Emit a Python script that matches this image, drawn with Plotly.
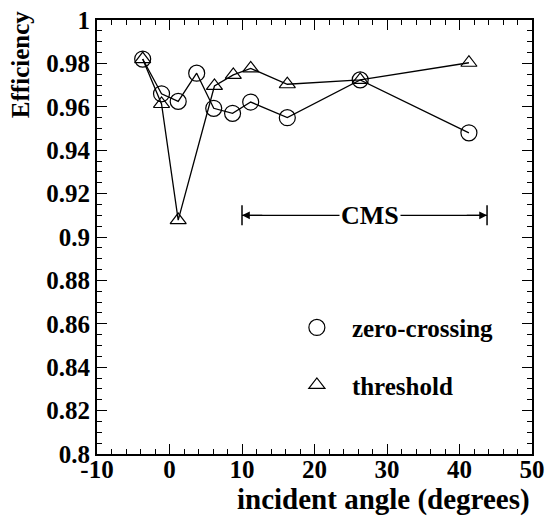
import plotly.graph_objects as go

# --- data ---
angle_zc = [-3.7, -1.1, 1.2, 3.75, 6.1, 8.7, 11.2, 16.25, 26.3, 41.3]
eff_zc = [0.982, 0.966, 0.9625, 0.9755, 0.9593, 0.957, 0.9622, 0.955, 0.9724, 0.948]
angle_th = [-3.7, -1.1, 1.2, 6.2, 8.8, 11.2, 16.25, 26.3, 41.3]
eff_th = [0.982, 0.9613, 0.9078, 0.9696, 0.9747, 0.9777, 0.9704, 0.9724, 0.9803]
x_tickvals = [-10, 0, 10, 20, 30, 40, 50]
x_ticktext = ["-10", "0", "10", "20", "30", "40", "50"]
y_tickvals = [0.8, 0.82, 0.84, 0.86, 0.88, 0.9, 0.92, 0.94, 0.96, 0.98, 1.0]
y_ticktext = ["0.8", "0.82", "0.84", "0.86", "0.88", "0.9", "0.92", "0.94", "0.96", "0.98", "1"]
series_names = ["zero-crossing", "threshold"]
cms_range = [10, 43.8]
cms_level = 0.91

FONT = "Liberation Serif"

fig = go.Figure()
line = dict(color="black", width=1.3)
mk_zc = dict(symbol="circle-open", size=16, color="black", line=dict(width=1.2))
mk_th = dict(symbol="triangle-up-open", size=14, color="black", line=dict(width=1.2))
fig.add_trace(go.Scatter(x=angle_zc, y=eff_zc, mode="lines+markers", line=line,
                         marker=mk_zc, showlegend=False))
fig.add_trace(go.Scatter(x=angle_th, y=eff_th, mode="lines+markers", line=line,
                         marker=mk_th, showlegend=False))
# legend entries (marker only)
fig.add_trace(go.Scatter(x=[None], y=[None], mode="markers", name=f"<b>{series_names[0]}</b>",
                         legendgroup="a", marker=mk_zc))
fig.add_trace(go.Scatter(x=[None], y=[None], mode="markers", name=f"<b>{series_names[1]}</b>",
                         legendgroup="b", marker=mk_th))

# CMS range indicator
fig.add_shape(type="line", x0=cms_range[0], x1=cms_range[1], y0=cms_level, y1=cms_level,
              line=dict(color="black", width=1.3))
for xv in cms_range:
    fig.add_shape(type="line", x0=xv, x1=xv, y0=cms_level - 0.0046, y1=cms_level + 0.0046,
                  line=dict(color="black", width=1.5))
fig.add_annotation(x=cms_range[0], y=cms_level, ax=cms_range[0] + 3, ay=cms_level,
                   axref="x", ayref="y", text="", showarrow=True, arrowhead=2,
                   arrowsize=1.2, arrowwidth=1.3, arrowcolor="black")
fig.add_annotation(x=cms_range[1], y=cms_level, ax=cms_range[1] - 3, ay=cms_level,
                   axref="x", ayref="y", text="", showarrow=True, arrowhead=2,
                   arrowsize=1.2, arrowwidth=1.3, arrowcolor="black")
fig.add_annotation(x=(cms_range[0] + cms_range[1]) / 2 + 0.8, y=cms_level, text="<b>CMS</b>",
                   showarrow=False, bgcolor="white", font=dict(family=FONT, size=26, color="black"),
                   xanchor="center", yanchor="middle", borderpad=1)

# axis titles as annotations
fig.add_annotation(xref="paper", yref="paper", x=-0.177, y=0.896, text="<b>Efficiency</b>",
                   textangle=-90, showarrow=False, xanchor="center", yanchor="middle",
                   font=dict(family=FONT, size=25, color="black"))
fig.add_annotation(xref="paper", yref="paper", x=1.0, y=-0.104, text="<b>incident angle (degrees)</b>",
                   showarrow=False, xanchor="right", yanchor="middle",
                   font=dict(family=FONT, size=29, color="black"))

tickfont = dict(family=FONT, size=25, color="black")
axis_common = dict(showgrid=False, zeroline=False, showline=True, linecolor="black", linewidth=2,
                   mirror="allticks", ticks="inside", tickcolor="black", tickwidth=1.3, ticklen=10,
                   tickfont=tickfont, automargin=False)
fig.update_xaxes(range=[-10, 50], tickvals=x_tickvals, ticktext=[f"<b>{t}</b>" for t in x_ticktext],
                 minor=dict(dtick=2, tick0=0, ticks="inside", ticklen=5, tickcolor="black", tickwidth=1.3),
                 ticklabelstandoff=-8, **axis_common)
fig.update_yaxes(range=[0.8, 1.0], tickvals=y_tickvals, ticktext=[f"<b>{t}</b>" for t in y_ticktext],
                 minor=dict(dtick=0.005, tick0=0.8, ticks="inside", ticklen=5, tickcolor="black", tickwidth=1.3),
                 **axis_common)

fig.update_layout(width=547, height=516, margin=dict(l=97, r=15, t=20, b=62),
                  font=dict(family=FONT, size=25, color="black"),
                  plot_bgcolor="white", paper_bgcolor="white",
                  legend=dict(x=0.425, y=0.344, xanchor="left", yanchor="top", bgcolor="rgba(0,0,0,0)",
                              font=dict(family=FONT, size=25, color="black"),
                              traceorder="grouped", tracegroupgap=22,
                              itemwidth=60),
                  showlegend=True)
fig.write_html("out.html")
